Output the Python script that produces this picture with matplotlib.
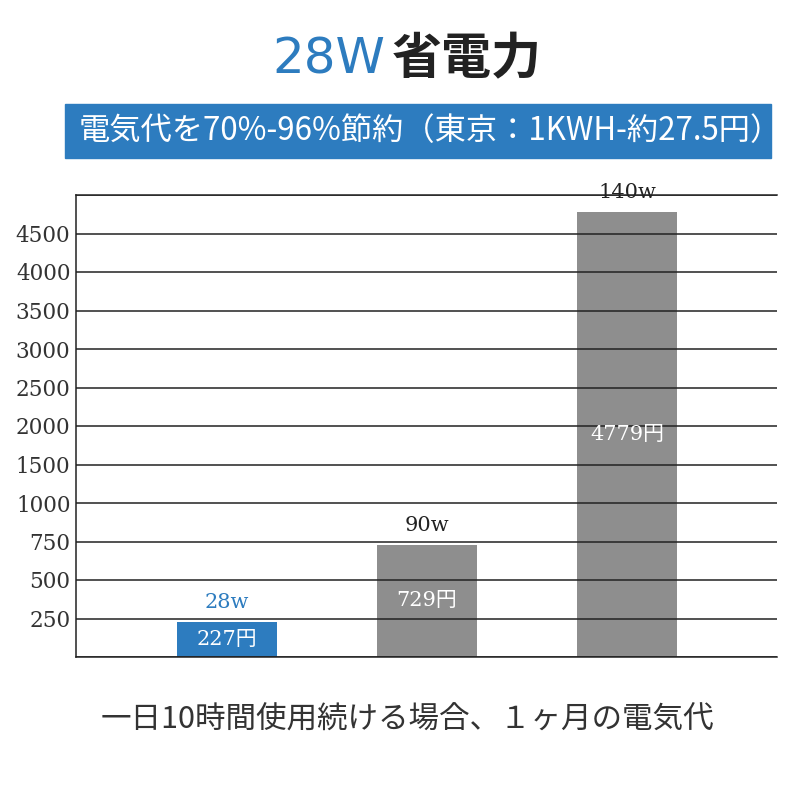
import numpy as np
import matplotlib
matplotlib.use("Agg")
import matplotlib.pyplot as plt
from matplotlib.patches import Rectangle

# data
watts = ["28w", "90w", "140w"]
costs = [227, 729, 4779]
cost_labels = ["227円", "729円", "4779円"]
bar_colors = ["#2d7cbf", "#8e8e8e", "#8e8e8e"]
watt_colors = ["#2d7cbf", "#222222", "#222222"]

y_ticks = [0, 250, 500, 750, 1000, 1500, 2000, 2500, 3000, 3500, 4000, 4500, 5000]
y_tick_labels = ["", "250", "500", "750", "1000", "1500", "2000", "2500",
                 "3000", "3500", "4000", "4500", ""]

blue = "#2d7cbf"
jp = ["Noto Sans CJK JP", "DejaVu Sans"]
serif = ["DejaVu Serif", "Noto Sans CJK JP"]

# the axis is evenly spaced per tick, not linear
tick_pos = np.arange(len(y_ticks))


def fwd(v):
    return np.interp(v, y_ticks, tick_pos)


def inv(p):
    return np.interp(p, tick_pos, y_ticks)


fig = plt.figure(figsize=(8, 8), dpi=100)
ax = fig.add_axes([76 / 800, 1 - 657 / 800, 701 / 800, 462 / 800])

x = np.arange(len(costs))
ax.bar(x, costs, width=0.5, color=bar_colors, zorder=1)

ax.set_yscale("function", functions=(fwd, inv))
ax.set_ylim(0, 5000)
ax.set_xlim(-0.755, 2.75)
ax.set_yticks(y_ticks)
ax.set_yticklabels(y_tick_labels, family=serif, fontsize=15.5, color="#333333")
ax.set_xticks([])
ax.tick_params(axis="y", length=0, pad=4)
ax.yaxis.set_minor_locator(matplotlib.ticker.NullLocator())

ax.set_axisbelow(False)
ax.grid(axis="y", color="#222222", linewidth=1.1)
ax.spines["right"].set_visible(False)
for s in ["top", "left", "bottom"]:
    ax.spines[s].set_color("#222222")
    ax.spines[s].set_linewidth(1.1)

for i in range(len(costs)):
    ax.annotate(watts[i], (x[i], costs[i]), xytext=(0, 14), textcoords="offset points",
                ha="center", va="center", color=watt_colors[i], family=serif, fontsize=15)
    mid = inv(fwd(costs[i]) / 2)
    ax.text(x[i], mid, cost_labels[i], ha="center", va="center", color="white",
            family=serif, fontsize=15)

# title
fig.text(0.482, 1 - 60 / 800, "28W", ha="right", va="center", color=blue,
         fontsize=36, family=["DejaVu Sans"])
fig.text(0.49, 1 - 60 / 800, "省電力", ha="left", va="center", color="#222222",
         fontsize=36, family=jp, weight="bold")

# banner
fig.patches.append(Rectangle((65 / 800, 1 - 158 / 800), 706 / 800, 54 / 800,
                             transform=fig.transFigure, color=blue, zorder=0))
fig.text(0.5375, 1 - 131 / 800, "電気代を70%-96%節約（東京：1KWH-約27.5円）",
         ha="center", va="center", color="white", fontsize=22.5, family=jp)

fig.text(0.509, 1 - 720 / 800, "一日10時間使用続ける場合、１ヶ月の電気代",
         ha="center", va="center", color="#333333", fontsize=22, family=jp)

fig.savefig("out.png", dpi=100)
